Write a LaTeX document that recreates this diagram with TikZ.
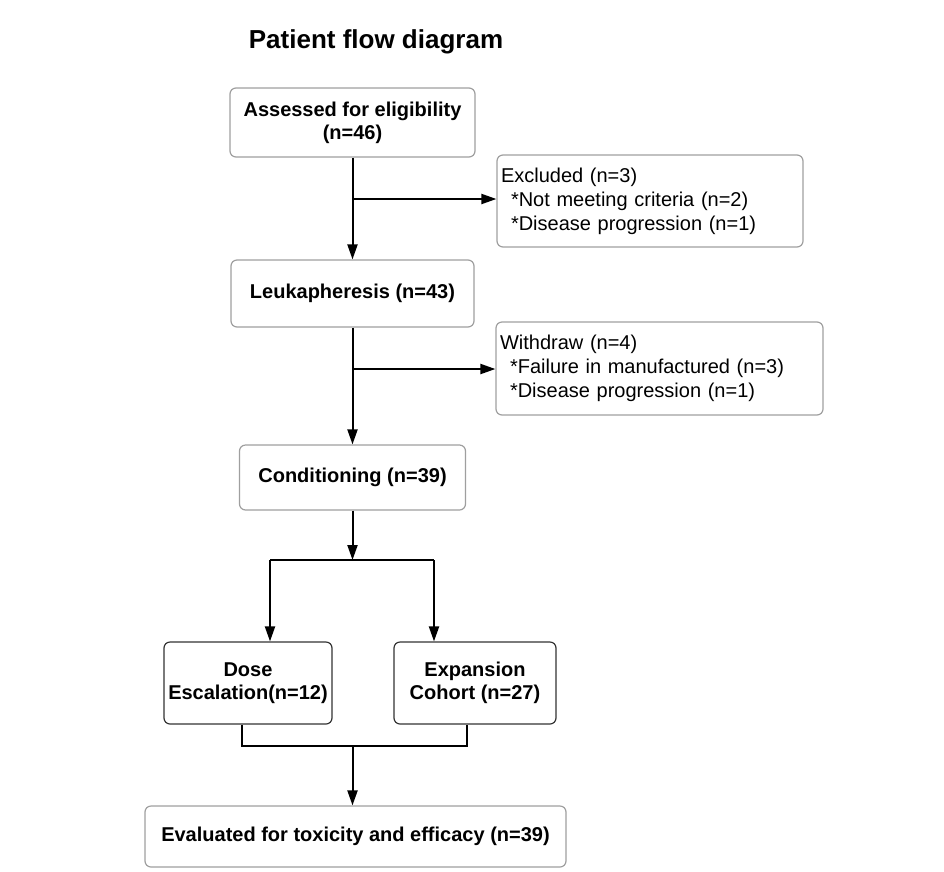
\documentclass[tikz,border=0pt]{standalone}
\usepackage{fontspec}
\setmainfont{Liberation Sans}
\usetikzlibrary{arrows.meta}
\begin{document}
\begin{tikzpicture}[x=1pt,y=-1pt,
  box/.style={draw=gray!75, line width=1.2pt, rounded corners=6pt, fill=white, align=center,
    font=\fontsize{20}{23}\selectfont\bfseries, inner sep=2pt},
  dbox/.style={box, draw=black!80},
  sidebox/.style={draw=gray!75, line width=1.2pt, rounded corners=6pt, align=left,
    font=\fontsize{20}{24}\selectfont, inner xsep=4pt, inner ysep=2pt},
  line/.style={line width=2pt, black},
  arr/.style={line, -{Triangle[length=15pt,width=10pt]}}
]
\useasboundingbox (0,0) rectangle (944,871);
\node[font=\fontsize{26}{30}\selectfont\bfseries] (title) at (376,42) {Patient flow diagram};

\node[box, minimum width=245pt, minimum height=69pt] (a) at (352.5,122.5) {Assessed for eligibility\\(n=46)};
\node[sidebox, minimum width=306pt, minimum height=92pt, text width=298pt] (exc) at (650,201)
  {Excluded (n=3)\\\hspace*{10pt}*Not meeting criteria (n=2)\\\hspace*{10pt}*Disease progression (n=1)};
\node[box, minimum width=243pt, minimum height=67pt] (b) at (352.5,293.5) {Leukapheresis (n=43)};
\node[sidebox, minimum width=327pt, minimum height=93pt, text width=319pt] (wd) at (659.5,368.5)
  {Withdraw (n=4)\\\hspace*{10pt}*Failure in manufactured (n=3)\\\hspace*{10pt}*Disease progression (n=1)};
\node[box, minimum width=226pt, minimum height=65pt] (c) at (352.5,477.5) {Conditioning (n=39)};
\node[dbox, minimum width=168pt, minimum height=82pt] (dose) at (248,683) {Dose\\Escalation(n=12)};
\node[dbox, minimum width=162pt, minimum height=82pt] (exp) at (475,683) {Expansion\\Cohort (n=27)};
\node[box, minimum width=421pt, minimum height=61pt] (ev) at (355.5,836.5) {Evaluated for toxicity and efficacy (n=39)};

\coordinate (j1) at (352.5,199);
\coordinate (j2) at (352.5,369);
\coordinate (s1) at (352.5,560);
\coordinate (l1) at (270,560);
\coordinate (r1) at (434,560);
\coordinate (bl) at (242,746);
\coordinate (br) at (467,746);
\coordinate (bm) at (352.5,746);

\draw[arr] (a.south) -- (b.north);
\draw[arr] (j1) -- (j1 -| exc.west);
\draw[arr] (b.south) -- (c.north);
\draw[arr] (j2) -- (j2 -| wd.west);
\draw[arr] (c.south) -- (s1);
\draw[line] (l1) -- (r1);
\draw[arr] (l1) -- (l1 |- dose.north);
\draw[arr] (r1) -- (r1 |- exp.north);
\draw[line] (bl |- dose.south) -- (bl) -- (br) -- (br |- exp.south);
\draw[arr] (bm) -- (bm |- ev.north);
\end{tikzpicture}
\end{document}
